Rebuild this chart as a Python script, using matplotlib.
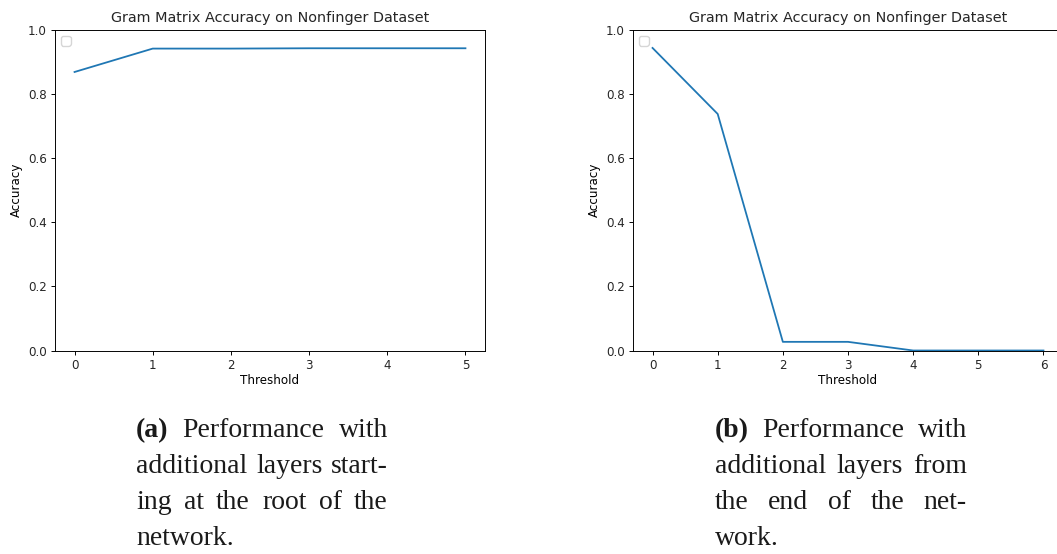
import matplotlib
matplotlib.use("Agg")
import matplotlib.pyplot as plt
from matplotlib.font_manager import FontProperties

# Accuracy per threshold, layers added from the root of the network
thr_root = [0, 1, 2, 3, 4, 5]
acc_root = [0.869, 0.942, 0.942, 0.943, 0.943, 0.943]

# Accuracy per threshold, layers added from the end of the network
thr_end = [0, 1, 2, 3, 4, 5, 6]
acc_end = [0.944, 0.738, 0.027, 0.027, 0.0, 0.0, 0.0]

title = "Gram Matrix Accuracy on Nonfinger Dataset"
xlabel = "Threshold"
ylabel = "Accuracy"

caption_a = ["(a)", "Performance with",
             "additional layers start-",
             "ing at the root of the",
             "network."]
caption_b = ["(b)", "Performance with",
             "additional layers from",
             "the end of the net-",
             "work."]

W, H = 1057, 554
fig = plt.figure(figsize=(W / 100, H / 100), dpi=100)

S = 0.86
plt.rcParams.update({
    "font.size": 10 * S,
    "axes.linewidth": 0.8 * S,
    "xtick.major.width": 0.8 * S,
    "ytick.major.width": 0.8 * S,
    "xtick.major.size": 3.5 * S,
    "ytick.major.size": 3.5 * S,
    "xtick.major.pad": 3.5 * S,
    "ytick.major.pad": 3.5 * S,
    "text.color": "#262626",
    "xtick.labelcolor": "#262626",
    "ytick.labelcolor": "#262626",
})


def px_axes(l, t, r, b):
    return fig.add_axes([l / W, 1 - b / H, (r - l) / W, (b - t) / H])


def style(ax, xs):
    ax.set_title(title, fontsize=12 * S, pad=7 * S)
    ax.set_xlabel(xlabel, fontsize=10 * S, labelpad=1.5)
    ax.set_ylabel(ylabel, fontsize=10 * S, labelpad=4 * S)
    ax.set_ylim(0, 1.0)
    ax.set_xticks(xs)
    ax.tick_params(labelsize=10 * S)
    ax.legend(loc="upper left", frameon=True, fontsize=10 * S)


ax1 = px_axes(55, 30, 485, 350.5)
ax1.plot(thr_root, acc_root, color="#1f77b4", lw=1.5 * S)
ax1.set_xlim(-0.25, 5.25)
style(ax1, thr_root)

ax2 = px_axes(633, 30, 1063, 350.5)
ax2.plot(thr_end, acc_end, color="#1f77b4", lw=1.5 * S)
ax2.set_xlim(-0.3, 6.3)
style(ax2, thr_end)

# Justified captions under each panel
cap_fp = FontProperties(family="Liberation Serif", size=20)
cap_bold = FontProperties(family="Liberation Serif", size=20, weight="bold")
renderer = fig.canvas.get_renderer()


def caption(lines, x0, x1, y0, dy):
    tag, rest = lines[0], lines[1:]
    for i, line in enumerate(rest):
        words = line.split(" ")
        items = []
        if i == 0:
            items.append((tag, cap_bold))
        items += [(w, cap_fp) for w in words]
        texts = []
        for s, fp in items:
            t = fig.text(0, 0, s, fontproperties=fp, color="#1a1a1a",
                         va="baseline", ha="left")
            texts.append(t)
        widths = [t.get_window_extent(renderer).width for t in texts]
        y = 1 - (y0 + i * dy) / H
        last = i == len(rest) - 1
        if last or len(texts) == 1:
            gap = 6
        else:
            gap = (x1 - x0 - sum(widths)) / (len(texts) - 1)
        x = x0
        for t, w in zip(texts, widths):
            t.set_position((x / W, y))
            x += w + gap


caption(caption_a, 136, 388, 437, 36)
caption(caption_b, 715, 967, 437, 36)

fig.savefig("out.png", dpi=100)
